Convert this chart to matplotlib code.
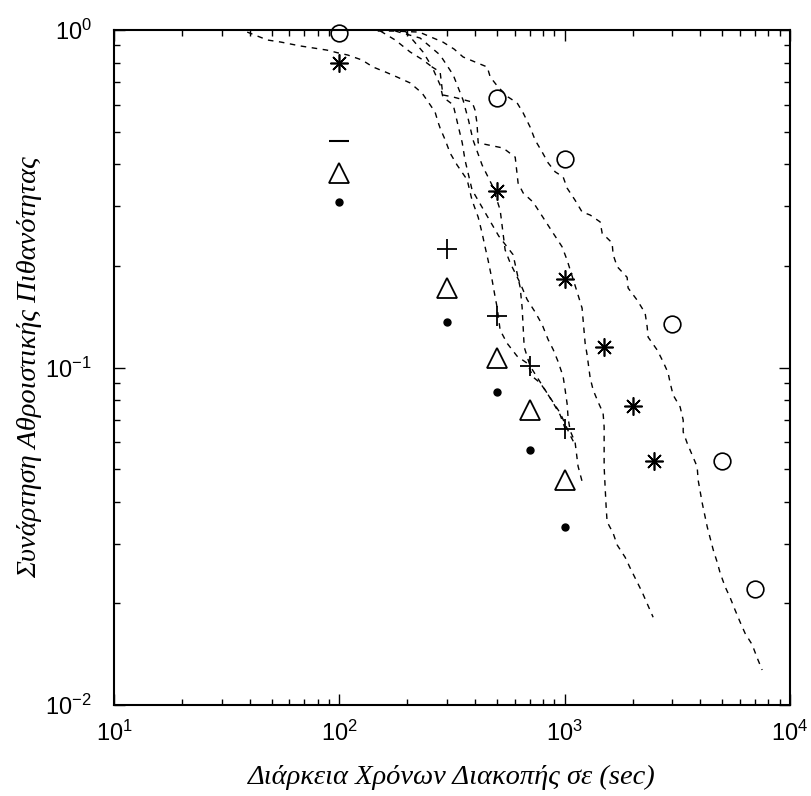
import matplotlib
matplotlib.use("Agg")
import matplotlib.pyplot as plt

# markers (duration in sec, cumulative probability)
circle_x = [100, 500, 1000, 3000, 5000, 7000]
circle_y = [0.98, 0.63, 0.415, 0.135, 0.053, 0.022]
star_x = [100, 500, 1000, 1500, 2000, 2500]
star_y = [0.80, 0.333, 0.183, 0.115, 0.077, 0.053]
dash_x = [100]
dash_y = [0.47]
plus_x = [300, 500, 700, 1000]
plus_y = [0.224, 0.142, 0.101, 0.0656]
tri_x = [100, 300, 500, 700, 1000]
tri_y = [0.377, 0.172, 0.107, 0.0748, 0.0464]
dot_x = [100, 300, 500, 700, 1000]
dot_y = [0.31, 0.136, 0.0844, 0.0568, 0.0338]

# dashed empirical curves
curve_a_x = [39, 48, 55, 67, 88, 99, 109, 126, 141, 160, 180, 206, 233, 253, 266, 274, 280,
             295, 310, 333, 369, 388, 413, 430, 443, 457, 476, 491, 501, 517, 555, 615, 681,
             724, 778, 835, 889, 955, 1004]
curve_a_y = [0.986, 0.934, 0.921, 0.897, 0.872, 0.855, 0.843, 0.815, 0.777, 0.751, 0.726,
             0.697, 0.650, 0.600, 0.571, 0.534, 0.512, 0.472, 0.432, 0.398, 0.360, 0.313,
             0.279, 0.250, 0.228, 0.208, 0.182, 0.162, 0.151, 0.129, 0.118, 0.108, 0.103,
             0.0937, 0.090, 0.084, 0.0785, 0.0723, 0.066]
curve_b_x = [152, 177, 206, 235, 258, 280, 288, 320, 336, 351, 361, 388, 450, 510, 590, 634,
             647, 661, 702, 835, 955, 1057, 1112]
curve_b_y = [0.993, 0.934, 0.861, 0.815, 0.777, 0.687, 0.633, 0.600, 0.523, 0.463, 0.412,
             0.336, 0.283, 0.245, 0.216, 0.173, 0.151, 0.115, 0.101, 0.084, 0.0733, 0.063,
             0.059]
curve_c_x = [177, 228, 280, 320, 354, 374, 392, 430, 476, 517, 544, 573, 634, 681, 739, 794,
             844, 889, 935, 984, 1004, 1025, 1035, 1057, 1112, 1146, 1194]
curve_c_y = [0.993, 0.947, 0.843, 0.736, 0.620, 0.541, 0.472, 0.398, 0.347, 0.293, 0.223,
             0.204, 0.178, 0.159, 0.146, 0.134, 0.121, 0.113, 0.104, 0.094, 0.086, 0.078,
             0.071, 0.065, 0.060, 0.051, 0.046]
curve_d_x = [196, 235, 258, 280, 288, 320, 388, 400, 408, 413, 533, 603, 621, 654, 724, 778,
             889, 973, 1025, 1146, 1194, 1207, 1232, 1257, 1297, 1337, 1407, 1480, 1496, 1496,
             1496, 1511, 1527, 1542, 1640, 1709, 1854, 1950, 2206, 2468]
curve_d_y = [0.993, 0.861, 0.777, 0.751, 0.642, 0.633, 0.612, 0.579, 0.530, 0.463, 0.447,
             0.420, 0.352, 0.329, 0.309, 0.287, 0.250, 0.228, 0.208, 0.164, 0.150, 0.138,
             0.118, 0.109, 0.0931, 0.0858, 0.079, 0.0733, 0.0667, 0.0581, 0.0508, 0.0443,
             0.0386, 0.0349, 0.0323, 0.0298, 0.0274, 0.0255, 0.0216, 0.0182]
curve_e_x = [148, 173, 226, 255, 288, 323, 354, 400, 453, 467, 506, 561, 615, 654, 702, 739,
             794, 844, 907, 984, 1025, 1112, 1194, 1297, 1436, 1466, 1623, 1640, 1709, 1892,
             1911, 2094, 2274, 2322, 2345, 2572, 2733, 2876, 2937, 3027, 3252, 3355, 3355,
             3494, 3676, 3870, 3909, 4074, 4290, 4562, 4748, 4896, 5151, 5421, 5705, 6004,
             6318, 6788, 7143, 7517]
curve_e_y = [0.993, 0.993, 0.986, 0.953, 0.921, 0.878, 0.832, 0.804, 0.777, 0.726, 0.678,
             0.633, 0.608, 0.568, 0.516, 0.472, 0.435, 0.404, 0.380, 0.367, 0.340, 0.313,
             0.289, 0.283, 0.270, 0.250, 0.234, 0.216, 0.199, 0.185, 0.172, 0.1585, 0.145,
             0.132, 0.123, 0.1127, 0.104, 0.0964, 0.090, 0.0829, 0.0764, 0.0699, 0.0644,
             0.0597, 0.0551, 0.0508, 0.0464, 0.0397, 0.0337, 0.0288, 0.0265, 0.0246, 0.0224,
             0.0208, 0.0191, 0.0176, 0.0163, 0.0151, 0.0138, 0.0127]

fig = plt.figure(figsize=(8.12, 7.96), dpi=100)
ax = fig.add_axes([0.1404, 0.1143, 0.8326, 0.848])

dash_style = (0, (4, 4))
for cx, cy in [(curve_a_x, curve_a_y), (curve_b_x, curve_b_y), (curve_c_x, curve_c_y),
               (curve_d_x, curve_d_y), (curve_e_x, curve_e_y)]:
    ax.plot(cx, cy, color='black', linestyle=dash_style, linewidth=1.0)

ax.plot(circle_x, circle_y, 'o', mfc='white', mec='black', ms=12, mew=1.2, clip_on=False)
ax.plot(star_x, star_y, marker=(8, 2, 0), linestyle='none', color='black', ms=13, mew=1.2)
ax.plot(dash_x, dash_y, '_', color='black', ms=14, mew=1.5)
ax.plot(plus_x, plus_y, '+', color='black', ms=15, mew=1.3)
ax.plot(tri_x, tri_y, '^', mfc='white', mec='black', ms=14, mew=1.3)
ax.plot(dot_x, dot_y, 'o', color='black', ms=5)

ax.set_xscale('log')
ax.set_yscale('log')
ax.set_xlim(10, 1e4)
ax.set_ylim(1e-2, 1)

ax.tick_params(which='both', direction='in', top=True, right=True, width=1, labelsize=17,
               colors='black')
ax.tick_params(which='major', length=8)
ax.tick_params(axis='x', which='major', pad=11)
ax.tick_params(axis='y', which='major', pad=16)
ax.tick_params(which='minor', length=4)
for lab in ax.get_xticklabels() + ax.get_yticklabels():
    lab.set_family(['Liberation Sans Narrow', 'Liberation Sans', 'DejaVu Sans'])
for sp in ax.spines.values():
    sp.set_linewidth(1.5)

label_font = dict(family=['Liberation Serif', 'DejaVu Serif'], style='italic')
ax.set_xlabel('Διάρκεια Χρόνων Διακοπής σε (sec)', labelpad=14, fontsize=20.5, **label_font)
ax.set_ylabel('Συνάρτηση Αθροιστικής Πιθανότητας', fontsize=20.5, **label_font)
ax.yaxis.set_label_coords(-0.107, 0.5)

fig.savefig('out.png', dpi=100, facecolor='white')
